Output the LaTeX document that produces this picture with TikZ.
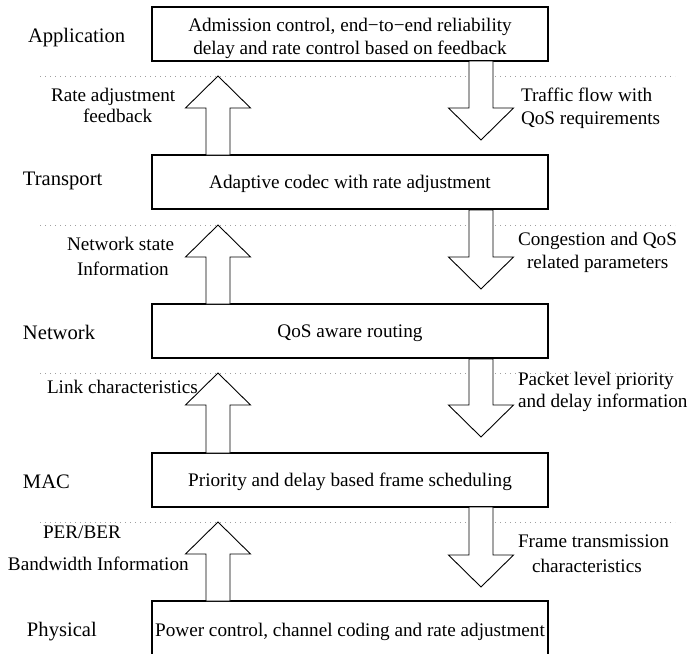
\documentclass[tikz,border=0pt]{standalone}
\usepackage{fontspec}
\setmainfont{Liberation Serif}
\newcommand\UpBlk[3]{% x-centre, tip y, bottom y
  \draw[blk] (#1-12,#3) -- (#1-12,#2+32) -- (#1-32.5,#2+32) -- (#1,#2)
    -- (#1+32.5,#2+32) -- (#1+12,#2+32) -- (#1+12,#3) -- cycle;}
\newcommand\DownBlk[3]{% x-centre, top y, tip y
  \draw[blk] (#1-12,#2) -- (#1-12,#3-32) -- (#1-32.5,#3-32) -- (#1,#3)
    -- (#1+32.5,#3-32) -- (#1+12,#3-32) -- (#1+12,#2) -- cycle;}
\begin{document}
\begin{tikzpicture}[x=1pt,y=-1pt,
  every node/.style={font=\fontsize{19.2}{22.6}\selectfont, inner sep=0pt, outer sep=0pt},
  layer/.style={draw=black, line width=1.2pt, minimum width=396pt, minimum height=54pt,
                align=center, anchor=north west, text height=13pt, text depth=0pt},
  lbl/.style={anchor=base west},
  lay/.style={anchor=base west, font=\fontsize{20.6}{24}\selectfont},
  sep/.style={gray!75, line width=0.8pt, dash pattern=on 0.8pt off 4.2pt},
  blk/.style={draw=black, line width=0.9pt, fill=white, line join=miter}]
\clip (0,0) rectangle (689,654);
\fill[white] (0,0) rectangle (689,654);

% separators
\draw[sep] (40,76) -- (675,76);
\draw[sep] (40,225) -- (675,225);
\draw[sep] (40,373) -- (675,373);
\draw[sep] (40,522) -- (675,522);

% layer boxes
\node[layer] (app) at (152,7) {};
\node[align=center, yshift=-4.3pt] (apptxt) at (app.center) {Admission control, end−to−end reliability\\delay and rate control based on feedback};
\node[layer] (tra) at (152,155) {Adaptive codec with rate adjustment};
\node[layer] (net) at (152,304) {QoS aware routing};
\node[layer] (mac) at (152,453) {Priority and delay based frame scheduling};
\node[layer, minimum height=57pt] (phy) at (152,601) {Power control, channel coding and rate adjustment};

% block arrows
\UpBlk{218}{76}{155}
\UpBlk{218}{225}{304}
\UpBlk{218}{373}{453}
\UpBlk{218}{522}{601}
\DownBlk{481}{61}{140}
\DownBlk{481}{210}{289}
\DownBlk{481}{359}{437}
\DownBlk{481}{507}{587}

% layer names
\node[lay] (lapp) at (28,42.7) {Application};
\node[lay] (ltra) at (23,185) {Transport};
\node[lay] (lnet) at (23,339) {Network};
\node[lay] (lmac) at (23,488) {MAC};
\node[lay] (lphy) at (27,636) {Physical};

% left labels
\node[lbl] (ra1) at (51,101) {Rate adjustment};
\node[lbl] (ra2) at (83,122) {feedback};
\node[lbl] (ns1) at (67,250.5) {Network state};
\node[lbl] (ns2) at (77,275) {Information};
\node[lbl] (lc1) at (47,393) {Link characteristics};
\node[lbl] (pb1) at (43,538) {PER/BER};
\node[lbl] (pb2) at (8,570) {Bandwidth Information};

% right labels
\node[lbl] (tf1) at (521,101) {Traffic flow with};
\node[lbl] (tf2) at (521,124) {QoS requirements};
\node[lbl] (cq1) at (518,245) {Congestion and QoS};
\node[lbl] (cq2) at (527,268) {related parameters};
\node[lbl] (pl1) at (518,385) {Packet level priority};
\node[lbl] (pl2) at (518,407) {and delay information};
\node[lbl] (ft1) at (518,547) {Frame transmission};
\node[lbl] (ft2) at (532,572) {characteristics};
\end{tikzpicture}
\end{document}
